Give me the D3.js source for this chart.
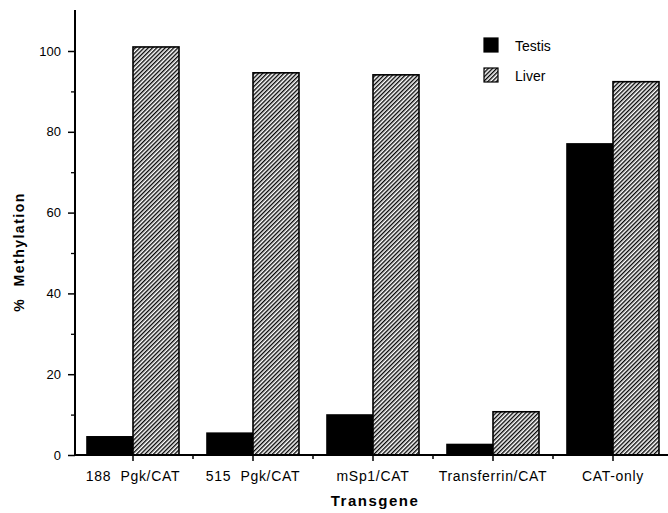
<!DOCTYPE html>
<html><head><meta charset="utf-8">
<script src="https://cdn.jsdelivr.net/npm/d3@7"></script>
<style>body{margin:0;background:#fff}svg{display:block}</style>
</head><body>
<svg id="c" width="668" height="513"></svg>
<script>
const categories = ["188  Pgk/CAT", "515  Pgk/CAT", "mSp1/CAT", "Transferrin/CAT", "CAT-only"];
const series = ["Testis", "Liver"];
const testis = [4.5, 5.4, 9.9, 2.6, 77.0];
const liver = [101, 94.6, 94.1, 10.7, 92.4];
const yTicks = [0, 20, 40, 60, 80, 100];
const yMinorTicks = [10, 30, 50, 70, 90];

const svg = d3.select("#c");
const font = "Liberation Sans, Arial, Helvetica, sans-serif";
const defs = svg.append("defs");
const pw = 3;
const pat = defs.append("pattern").attr("id","hatch").attr("patternUnits","userSpaceOnUse")
  .attr("width",pw).attr("height",pw).attr("patternTransform","rotate(45)");
pat.append("rect").attr("width",pw).attr("height",pw).attr("fill","#fff");
pat.append("line").attr("x1",0.7).attr("y1",0).attr("x2",0.7).attr("y2",pw)
  .attr("stroke","#000").attr("stroke-width",1.35);

const x = d3.scaleBand().domain(categories).range([73, 673]);
const y = d3.scaleLinear().domain([0, 100]).range([455, 51]);
const xs = d3.scaleBand().domain(series).range([-46, 46]);

const g = svg.append("g");
categories.forEach((c, i) => {
  const cx = x(c) + x.bandwidth()/2;
  const vals = [testis[i], liver[i]];
  series.forEach((s, j) => {
    g.append("rect")
      .attr("x", cx + xs(s)).attr("width", xs.bandwidth())
      .attr("y", y(vals[j])).attr("height", y(0) - y(vals[j]))
      .attr("fill", j === 0 ? "#000" : "url(#hatch)")
      .attr("stroke", "#000").attr("stroke-width", 1.6);
  });
});

// y axis
const yAxis = d3.axisLeft(y).tickValues(yTicks).tickSize(7).tickPadding(7);
const ya = svg.append("g").attr("transform","translate(75,0)").call(yAxis);
ya.select(".domain").remove();
ya.selectAll(".tick line").attr("stroke-width",1.5);
ya.selectAll("text").attr("font-family",font).attr("font-size",13).attr("fill","#000");
svg.append("g").attr("transform","translate(75,0)")
  .call(d3.axisLeft(y).tickValues(yMinorTicks).tickSize(4).tickFormat(""))
  .call(g2 => { g2.select(".domain").remove(); g2.selectAll("line").attr("stroke-width",1.3); });
svg.append("line").attr("x1",75).attr("x2",75).attr("y1",10).attr("y2",456)
  .attr("stroke","#000").attr("stroke-width",2);

// x axis
const xa = svg.append("g").attr("transform","translate(0,455)")
  .call(d3.axisBottom(x).tickSize(6).tickPadding(10));
xa.select(".domain").remove();
xa.selectAll(".tick line").attr("stroke-width",1.5);
xa.selectAll("text").attr("font-family",font).attr("font-size",14).attr("fill","#000")
  .attr("letter-spacing","0.7px").style("white-space","pre");
const bounds = categories.slice(0, 4).map(c => x(c) + x.bandwidth());
svg.append("g").selectAll("line").data(bounds).join("line")
  .attr("x1",d=>d).attr("x2",d=>d).attr("y1",455).attr("y2",459)
  .attr("stroke","#000").attr("stroke-width",1.5);
svg.append("line").attr("x1",74).attr("x2",668).attr("y1",455).attr("y2",455)
  .attr("stroke","#000").attr("stroke-width",2);

// axis titles
svg.append("text").attr("transform","translate(24,252) rotate(-90)")
  .attr("text-anchor","middle").attr("font-family",font).attr("font-weight","bold")
  .attr("font-size",14).attr("letter-spacing","1.5px").attr("word-spacing","6px")
  .text("% Methylation");
svg.append("text").attr("x",375).attr("y",506)
  .attr("text-anchor","middle").attr("font-family",font).attr("font-weight","bold")
  .attr("font-size",15).attr("letter-spacing","1.5px").text("Transgene");

// legend
series.forEach((s, j) => {
  const ly = 38 + j * 30;
  svg.append("rect").attr("x",484).attr("y",ly).attr("width",14).attr("height",14)
    .attr("fill", j === 0 ? "#000" : "url(#hatch)").attr("stroke","#000").attr("stroke-width",1.2);
  svg.append("text").attr("x",515).attr("y",ly+13).attr("font-family",font)
    .attr("font-size",14).text(s);
});
</script>
</body></html>
